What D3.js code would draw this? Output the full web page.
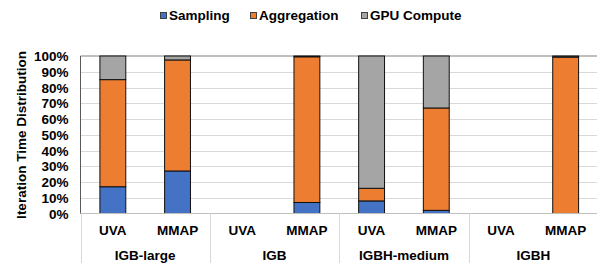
<!DOCTYPE html>
<html><head><meta charset="utf-8">
<script src="https://cdn.jsdelivr.net/npm/d3@7"></script>
<style>body{margin:0;background:#fff}svg{display:block}text{font-family:"Liberation Sans",Arial,sans-serif;font-weight:bold;fill:#000}</style>
</head><body><svg id="c" width="597" height="263"></svg>
<script>
const groups = ["IGB-large", "IGB", "IGBH-medium", "IGBH"];
const methods = ["UVA", "MMAP"];
const sampling =    [17, 27,   0, 7,    8,   2,  0, 0];
const aggregation = [68, 70.5, 0, 92.5, 8,  65,  0, 99.3];
const gpuCompute =  [15, 2.5,  0, 0.5, 84,  33,  0, 0.7];
const seriesNames = ["Sampling", "Aggregation", "GPU Compute"];
const colors = ["#4472C4", "#ED7D31", "#A5A5A5"];
const yTicks = [0,10,20,30,40,50,60,70,80,90,100];

const svg = d3.select("#c");
const L = 80.5, R = 598, T = 56, B = 213.5;
const cats = [];
groups.forEach(g => methods.forEach(m => cats.push(g + "|" + m)));
const x = d3.scaleBand().domain(cats).range([L, R]).paddingInner(0.6).paddingOuter(0.3);
const xg = d3.scaleBand().domain(groups).range([L, R]);
const y = d3.scaleLinear().domain([0, 100]).range([B, T]);

// gridlines
svg.append("g").selectAll("line").data(yTicks.filter(t => t > 0 && t < 100)).join("line")
  .attr("x1", L).attr("x2", R).attr("y1", d => Math.round(y(d)) + 0.5).attr("y2", d => Math.round(y(d)) + 0.5)
  .attr("stroke", "#d9d9d9").attr("stroke-width", 1);
svg.append("line").attr("x1", L).attr("x2", R).attr("y1", y(100)).attr("y2", y(100)).attr("stroke", "#7f7f7f");

// stacks
const rows = cats.map((c, i) => ({cat: c, Sampling: sampling[i], Aggregation: aggregation[i], "GPU Compute": gpuCompute[i]}));
const stack = d3.stack().keys(seriesNames)(rows);
stack.forEach((s, si) => {
  svg.append("g").selectAll("rect").data(s.filter(d => d[1] - d[0] > 0)).join("rect")
    .attr("x", d => x(d.data.cat)).attr("width", x.bandwidth())
    .attr("y", d => y(d[1])).attr("height", d => y(d[0]) - y(d[1]))
    .attr("fill", colors[si]).attr("stroke", "#111").attr("stroke-width", 1);
});

// axes lines
svg.append("line").attr("x1", L).attr("x2", R).attr("y1", B).attr("y2", B).attr("stroke", "#bfbfbf");
svg.append("line").attr("x1", L).attr("x2", L).attr("y1", T).attr("y2", B).attr("stroke", "#595959");

// y axis
const yAxis = d3.axisLeft(y).tickValues(yTicks).tickFormat(d => d + "%").tickSize(0).tickPadding(12);
const ya = svg.append("g").attr("transform", `translate(${L},0)`).call(yAxis);
ya.select(".domain").remove();
ya.selectAll("text").style("font-size", "13.5px").attr("dy", "0.35em").style("fill", "#000")
  .style("font-family", '"Liberation Sans",Arial,sans-serif');

// category separators
svg.append("g").selectAll("line").data(groups).join("line")
  .attr("x1", d => Math.round(xg(d)) + 0.5).attr("x2", d => Math.round(xg(d)) + 0.5)
  .attr("y1", B).attr("y2", 263).attr("stroke", "#d9d9d9");

// method labels
svg.append("g").selectAll("text").data(cats).join("text")
  .attr("x", d => x(d) + x.bandwidth() / 2).attr("y", 235).attr("text-anchor", "middle")
  .style("font-size", "13.5px").text(d => d.split("|")[1]);
// group labels
svg.append("g").selectAll("text").data(groups).join("text")
  .attr("x", d => xg(d) + xg.bandwidth() / 2).attr("y", 260).attr("text-anchor", "middle")
  .style("font-size", "13.5px").text(d => d);

// y title
svg.append("text").attr("transform", "translate(26,135) rotate(-90)").attr("text-anchor", "middle")
  .style("font-size", "13.5px").text("Iteration Time Distribution");

// legend
const legX = [160, 250, 361];
const lg = svg.append("g").selectAll("g").data(seriesNames).join("g")
  .attr("transform", (d, i) => `translate(${legX[i]},0)`);
lg.append("rect").attr("x", 0.5).attr("y", 12.5).attr("width", 6).attr("height", 6)
  .attr("fill", (d, i) => colors[i]).attr("stroke", "#404040").attr("stroke-width", 1);
lg.append("text").attr("x", 9).attr("y", 20).style("font-size", "13.5px").text(d => d);
</script></body></html>
